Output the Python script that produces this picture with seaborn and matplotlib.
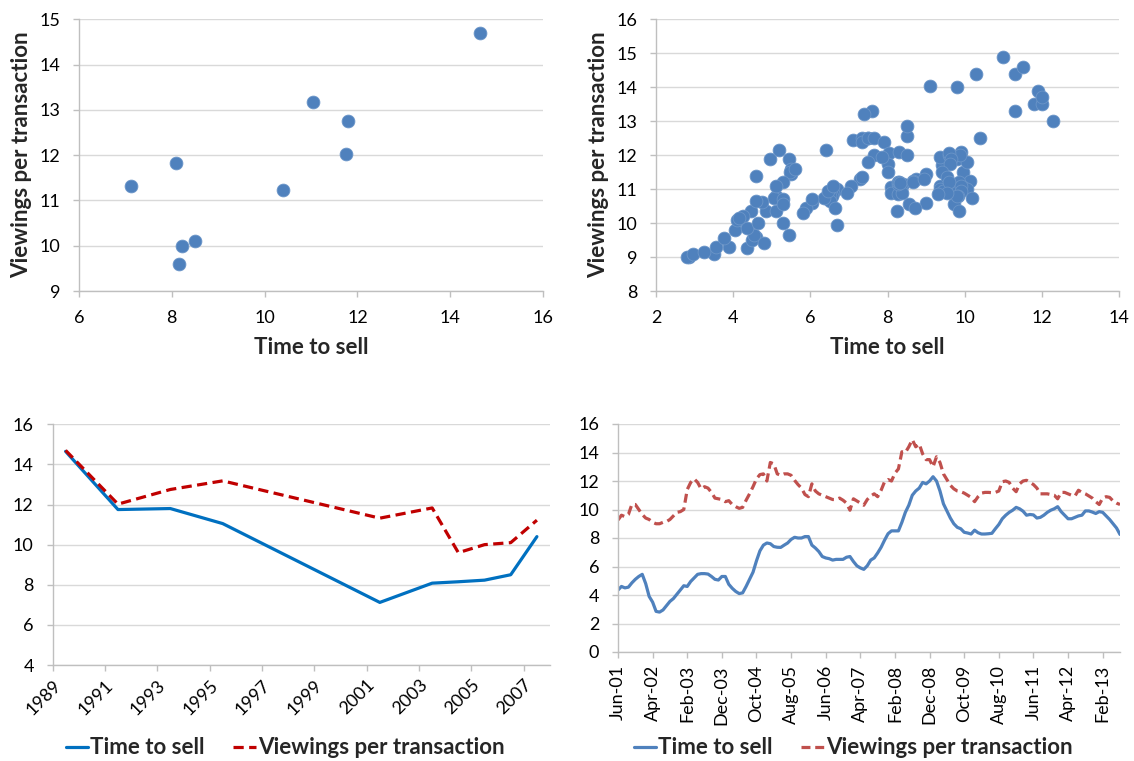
import matplotlib
matplotlib.use("Agg")
import matplotlib.pyplot as plt
import seaborn as sns
import pandas as pd

# ---------------- data ----------------
years = [1989, 1991, 1993, 1995, 2001, 2003, 2004, 2005, 2006, 2007]
annual_time_to_sell = [14.65, 11.75, 11.8, 11.05, 7.12, 8.08, 8.15, 8.23, 8.5, 10.4]
annual_viewings = [14.7, 12.02, 12.75, 13.18, 11.32, 11.83, 9.6, 10.0, 10.1, 11.22]

monthly_time_to_sell = [
    4.35, 4.6, 4.5, 4.55, 4.85, 5.1, 5.3, 5.45, 4.8, 3.9,
    3.5, 2.85, 2.8, 2.95, 3.25, 3.55, 3.75, 4.05, 4.35, 4.65,
    4.6, 4.95, 5.2, 5.45, 5.5, 5.5, 5.47, 5.3, 5.1, 5.05,
    5.3, 5.3, 4.75, 4.47, 4.25, 4.1, 4.15, 4.6, 5.1, 5.6,
    6.4, 7.1, 7.5, 7.65, 7.6, 7.4, 7.35, 7.34, 7.5, 7.65,
    7.9, 8.05, 8.0, 8.0, 8.1, 8.1, 7.5, 7.3, 7.05, 6.7,
    6.6, 6.55, 6.45, 6.5, 6.5, 6.5, 6.65, 6.7, 6.35, 6.05,
    5.9, 5.8, 6.05, 6.45, 6.6, 6.95, 7.35, 7.85, 8.3, 8.5,
    8.5, 8.5, 9.1, 9.8, 10.3, 11.0, 11.3, 11.5, 11.9, 11.8,
    12.0, 12.3, 12.0, 11.3, 10.4, 9.9, 9.4, 9.0, 8.75, 8.65,
    8.4, 8.35, 8.28, 8.55, 8.37, 8.28, 8.28, 8.3, 8.33, 8.65,
    8.95, 9.35, 9.6, 9.8, 9.95, 10.15, 10.05, 9.88, 9.6, 9.65,
    9.62, 9.4, 9.45, 9.6, 9.8, 9.95, 10.05, 10.2, 9.85, 9.6,
    9.35, 9.35, 9.45, 9.55, 9.6, 9.9, 9.9, 9.82, 9.72, 9.85,
    9.8, 9.55, 9.3, 9.0, 8.7, 8.25]
monthly_viewings = [
    9.26, 9.6, 9.5, 9.65, 10.35, 10.35, 10.0, 9.65, 9.4, 9.3,
    9.1, 9.0, 9.0, 9.1, 9.15, 9.3, 9.55, 9.8, 9.85, 10.0,
    11.4, 11.9, 12.15, 11.9, 11.45, 11.6, 11.5, 11.2, 10.8, 10.75,
    10.7, 10.55, 10.62, 10.35, 10.2, 10.08, 10.15, 10.65, 11.1, 11.6,
    12.15, 12.45, 12.5, 12.0, 13.3, 13.2, 12.5, 12.4, 12.5, 12.5,
    12.4, 12.05, 11.75, 11.5, 11.05, 10.9, 11.8, 11.3, 11.1, 11.0,
    10.9, 10.8, 10.7, 10.7, 10.8, 10.65, 10.45, 9.95, 10.75, 10.6,
    10.45, 10.3, 10.7, 10.95, 11.1, 10.9, 11.35, 11.95, 12.1, 12.0,
    12.55, 12.85, 14.05, 14.0, 14.4, 14.9, 14.4, 14.6, 13.9, 13.5,
    13.5, 13.0, 13.7, 13.3, 12.5, 12.1, 11.7, 11.45, 11.3, 11.25,
    11.15, 11.0, 10.85, 10.55, 10.9, 11.15, 11.2, 11.2, 11.18, 11.2,
    11.3, 11.95, 12.0, 11.9, 11.5, 11.25, 11.8, 12.0, 12.05, 11.9,
    11.75, 11.5, 11.1, 11.1, 11.1, 11.05, 11.0, 10.75, 11.2, 11.2,
    11.1, 11.0, 10.95, 11.35, 11.2, 11.1, 10.95, 10.8, 10.55, 10.35,
    10.8, 10.9, 10.85, 10.6, 10.45, 10.35]
month_tick_labels = ["Jun-01", "Apr-02", "Feb-03", "Dec-03", "Oct-04", "Aug-05",
                     "Jun-06", "Apr-07", "Feb-08", "Dec-08", "Oct-09", "Aug-10",
                     "Jun-11", "Apr-12", "Feb-13"]
series_names = ["Time to sell", "Viewings per transaction"]

# ---------------- style ----------------
sns.set_style("white")
plt.rcParams['font.family'] = ['Lato', 'DejaVu Sans']

W, H = 1134, 761
fig = plt.figure(figsize=(W / 100, H / 100), dpi=100)

GRID = '#D9D9D9'
SPINE = '#BFBFBF'
TICKFS = 13
LABFS = 16


def ax_px(l, t, r, b):
    return fig.add_axes([l / W, 1 - b / H, (r - l) / W, (b - t) / H])


def style(ax):
    ax.grid(axis='y', color=GRID, lw=1)
    ax.grid(axis='x', visible=False)
    ax.set_axisbelow(True)
    for s in ['top', 'right']:
        ax.spines[s].set_visible(False)
    for s in ['left', 'bottom']:
        ax.spines[s].set_color(SPINE)
        ax.spines[s].set_linewidth(1)
    ax.tick_params(axis='both', direction='out', length=4.5, width=1, color=SPINE,
                   labelsize=TICKFS, labelcolor='black', pad=9, left=True, bottom=True)


# ---------- top-left scatter ----------
ax1 = ax_px(79, 19.3, 543, 291)
sns.scatterplot(x=annual_time_to_sell, y=annual_viewings, ax=ax1, s=85,
                color='#4F81BD', edgecolor='#6B95C8', linewidth=0.6, zorder=3)
ax1.set_xlim(6, 16)
ax1.set_ylim(9, 15)
ax1.set_xticks(range(6, 17, 2))
ax1.set_yticks(range(9, 16))
style(ax1)
ax1.set_xlabel("Time to sell", fontsize=LABFS, fontweight='bold', labelpad=8)
ax1.set_ylabel("Viewings per transaction", fontsize=LABFS, fontweight='bold', labelpad=5)

# ---------- top-right scatter ----------
ax2 = ax_px(656, 19.3, 1119, 291)
sns.scatterplot(x=monthly_time_to_sell, y=monthly_viewings, ax=ax2, s=85,
                color='#4F81BD', edgecolor='#6B95C8', linewidth=0.6, zorder=3)
ax2.set_xlim(2, 14)
ax2.set_ylim(8, 16)
ax2.set_xticks(range(2, 15, 2))
ax2.set_yticks(range(8, 17))
style(ax2)
ax2.set_xlabel("Time to sell", fontsize=LABFS, fontweight='bold', labelpad=8)
ax2.set_ylabel("Viewings per transaction", fontsize=LABFS, fontweight='bold', labelpad=5)

# ---------- bottom-left annual lines ----------
ax3 = ax_px(52.5, 424.3, 550, 665)
df_a = pd.DataFrame({"pos": [y + 0.5 for y in years],
                     "t": annual_time_to_sell, "v": annual_viewings})
sns.lineplot(data=df_a, x="pos", y="t", ax=ax3, color='#0070C0', lw=2.3,
             label=series_names[0])
sns.lineplot(data=df_a, x="pos", y="v", ax=ax3, color='#C00000', lw=2.3,
             label=series_names[1])
ax3.lines[1].set_dashes((3.2, 1.7))
ax3.set_xlim(1989, 2008)
ax3.set_ylim(4, 16)
ax3.set_xticks(range(1989, 2008, 2))
ax3.set_yticks(range(4, 17, 2))
style(ax3)
ax3.tick_params(axis='x', pad=4)
for lab in ax3.get_xticklabels():
    lab.set_rotation(45)
    lab.set_ha('right')
    lab.set_rotation_mode('anchor')
ax3.set_xlabel("")
ax3.set_ylabel("")
h3, l3 = ax3.get_legend_handles_labels()
ax3.legend(h3, l3, loc='center', bbox_to_anchor=(285 / W, 1 - 748 / H),
           bbox_transform=fig.transFigure, ncol=2, frameon=False,
           prop={'size': LABFS, 'weight': 'bold'}, handlelength=1.0,
           handletextpad=0.1, columnspacing=1.3, borderaxespad=0)

# ---------- bottom-right monthly lines ----------
ax4 = ax_px(618, 424, 1120, 652)
df_m = pd.DataFrame({"m": list(range(len(monthly_time_to_sell))),
                     "t": monthly_time_to_sell, "v": monthly_viewings})
sns.lineplot(data=df_m, x="m", y="t", ax=ax4, color='#4F81BD', lw=2.3,
             label=series_names[0])
sns.lineplot(data=df_m, x="m", y="v", ax=ax4, color='#C0504D', lw=2.3,
             label=series_names[1])
ax4.lines[1].set_dashes((2.8, 1.5))
ax4.set_xlim(0, len(monthly_time_to_sell) - 1)
ax4.set_ylim(0, 16)
ax4.set_xticks(range(0, 10 * len(month_tick_labels), 10))
ax4.set_xticklabels(month_tick_labels, rotation=90)
ax4.set_yticks(range(0, 17, 2))
style(ax4)
ax4.tick_params(axis='x', pad=5)
ax4.set_xlabel("")
ax4.set_ylabel("")
h4, l4 = ax4.get_legend_handles_labels()
ax4.legend(h4, l4, loc='center', bbox_to_anchor=(853 / W, 1 - 748 / H),
           bbox_transform=fig.transFigure, ncol=2, frameon=False,
           prop={'size': LABFS, 'weight': 'bold'}, handlelength=1.0,
           handletextpad=0.1, columnspacing=1.3, borderaxespad=0)

fig.savefig("out.png", dpi=100)
